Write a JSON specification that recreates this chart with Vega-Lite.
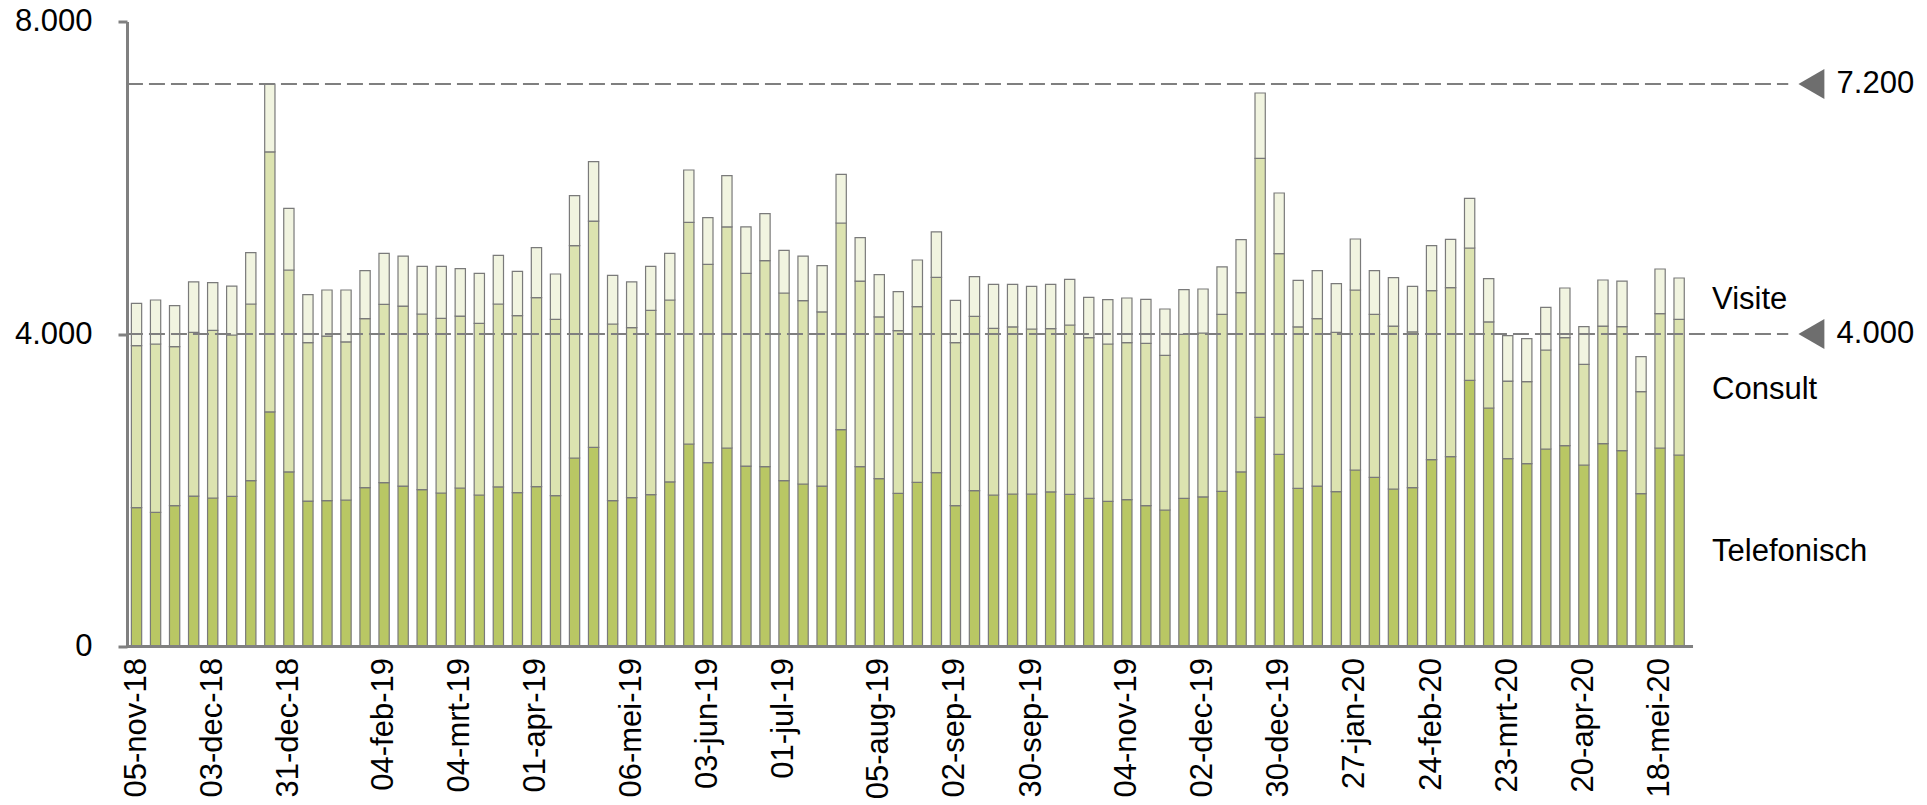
{
  "$schema": "https://vega.github.io/schema/vega-lite/v6.json",
  "width": 1714,
  "height": 625,
  "autosize": "none",
  "padding": {"left": 127, "top": 21.5, "right": 86, "bottom": 158.5},
  "background": "white",
  "config": {
    "view": {"stroke": null},
    "font": "Liberation Sans",
    "locale": {"number": {"decimal": ",", "thousands": ".", "grouping": [3], "currency": ["€", ""]}}
  },
  "datasets": {
    "weeks": [
      {"week": "05-nov-18", "Telefonisch": 1777, "Consult": 2073, "Visite": 543},
      {"week": "12-nov-18", "Telefonisch": 1717, "Consult": 2155, "Visite": 563},
      {"week": "19-nov-18", "Telefonisch": 1803, "Consult": 2035, "Visite": 525},
      {"week": "26-nov-18", "Telefonisch": 1926, "Consult": 2095, "Visite": 645},
      {"week": "03-dec-18", "Telefonisch": 1901, "Consult": 2146, "Visite": 610},
      {"week": "10-dec-18", "Telefonisch": 1922, "Consult": 2065, "Visite": 627},
      {"week": "17-dec-18", "Telefonisch": 2123, "Consult": 2261, "Visite": 657},
      {"week": "24-dec-18", "Telefonisch": 3002, "Consult": 3328, "Visite": 870},
      {"week": "31-dec-18", "Telefonisch": 2234, "Consult": 2585, "Visite": 790},
      {"week": "07-jan-19", "Telefonisch": 1862, "Consult": 2027, "Visite": 614},
      {"week": "14-jan-19", "Telefonisch": 1867, "Consult": 2107, "Visite": 589},
      {"week": "21-jan-19", "Telefonisch": 1875, "Consult": 2023, "Visite": 665},
      {"week": "28-jan-19", "Telefonisch": 2033, "Consult": 2163, "Visite": 615},
      {"week": "04-feb-19", "Telefonisch": 2097, "Consult": 2283, "Visite": 653},
      {"week": "11-feb-19", "Telefonisch": 2054, "Consult": 2304, "Visite": 640},
      {"week": "18-feb-19", "Telefonisch": 2007, "Consult": 2249, "Visite": 610},
      {"week": "25-feb-19", "Telefonisch": 1965, "Consult": 2236, "Visite": 665},
      {"week": "04-mrt-19", "Telefonisch": 2029, "Consult": 2201, "Visite": 606},
      {"week": "11-mrt-19", "Telefonisch": 1939, "Consult": 2198, "Visite": 640},
      {"week": "18-mrt-19", "Telefonisch": 2042, "Consult": 2342, "Visite": 623},
      {"week": "25-mrt-19", "Telefonisch": 1969, "Consult": 2266, "Visite": 567},
      {"week": "01-apr-19", "Telefonisch": 2046, "Consult": 2419, "Visite": 640},
      {"week": "08-apr-19", "Telefonisch": 1931, "Consult": 2257, "Visite": 580},
      {"week": "15-apr-19", "Telefonisch": 2413, "Consult": 2718, "Visite": 640},
      {"week": "22-apr-19", "Telefonisch": 2549, "Consult": 2897, "Visite": 760},
      {"week": "29-apr-19", "Telefonisch": 1867, "Consult": 2261, "Visite": 623},
      {"week": "06-mei-19", "Telefonisch": 1905, "Consult": 2176, "Visite": 585},
      {"week": "13-mei-19", "Telefonisch": 1943, "Consult": 2360, "Visite": 563},
      {"week": "20-mei-19", "Telefonisch": 2106, "Consult": 2329, "Visite": 598},
      {"week": "27-mei-19", "Telefonisch": 2592, "Consult": 2837, "Visite": 670},
      {"week": "03-jun-19", "Telefonisch": 2353, "Consult": 2539, "Visite": 597},
      {"week": "10-jun-19", "Telefonisch": 2541, "Consult": 2829, "Visite": 657},
      {"week": "17-jun-19", "Telefonisch": 2310, "Consult": 2467, "Visite": 593},
      {"week": "24-jun-19", "Telefonisch": 2302, "Consult": 2637, "Visite": 601},
      {"week": "01-jul-19", "Telefonisch": 2123, "Consult": 2402, "Visite": 546},
      {"week": "08-jul-19", "Telefonisch": 2080, "Consult": 2347, "Visite": 571},
      {"week": "15-jul-19", "Telefonisch": 2054, "Consult": 2228, "Visite": 593},
      {"week": "22-jul-19", "Telefonisch": 2775, "Consult": 2646, "Visite": 623},
      {"week": "29-jul-19", "Telefonisch": 2302, "Consult": 2376, "Visite": 555},
      {"week": "05-aug-19", "Telefonisch": 2148, "Consult": 2070, "Visite": 542},
      {"week": "12-aug-19", "Telefonisch": 1961, "Consult": 2082, "Visite": 499},
      {"week": "19-aug-19", "Telefonisch": 2101, "Consult": 2249, "Visite": 597},
      {"week": "26-aug-19", "Telefonisch": 2225, "Consult": 2500, "Visite": 581},
      {"week": "02-sep-19", "Telefonisch": 1803, "Consult": 2086, "Visite": 542},
      {"week": "09-sep-19", "Telefonisch": 1995, "Consult": 2231, "Visite": 508},
      {"week": "16-sep-19", "Telefonisch": 1939, "Consult": 2134, "Visite": 563},
      {"week": "23-sep-19", "Telefonisch": 1952, "Consult": 2138, "Visite": 546},
      {"week": "30-sep-19", "Telefonisch": 1952, "Consult": 2112, "Visite": 546},
      {"week": "07-okt-19", "Telefonisch": 1978, "Consult": 2090, "Visite": 568},
      {"week": "14-okt-19", "Telefonisch": 1948, "Consult": 2167, "Visite": 585},
      {"week": "21-okt-19", "Telefonisch": 1897, "Consult": 2056, "Visite": 516},
      {"week": "28-okt-19", "Telefonisch": 1858, "Consult": 2014, "Visite": 567},
      {"week": "04-nov-19", "Telefonisch": 1879, "Consult": 2010, "Visite": 572},
      {"week": "11-nov-19", "Telefonisch": 1803, "Consult": 2078, "Visite": 563},
      {"week": "18-nov-19", "Telefonisch": 1747, "Consult": 1980, "Visite": 593},
      {"week": "25-nov-19", "Telefonisch": 1897, "Consult": 2099, "Visite": 571},
      {"week": "02-dec-19", "Telefonisch": 1914, "Consult": 2099, "Visite": 563},
      {"week": "09-dec-19", "Telefonisch": 1986, "Consult": 2266, "Visite": 606},
      {"week": "16-dec-19", "Telefonisch": 2234, "Consult": 2295, "Visite": 678},
      {"week": "23-dec-19", "Telefonisch": 2934, "Consult": 3315, "Visite": 836},
      {"week": "30-dec-19", "Telefonisch": 2460, "Consult": 2568, "Visite": 777},
      {"week": "06-jan-20", "Telefonisch": 2025, "Consult": 2065, "Visite": 597},
      {"week": "13-jan-20", "Telefonisch": 2054, "Consult": 2142, "Visite": 615},
      {"week": "20-jan-20", "Telefonisch": 1982, "Consult": 2039, "Visite": 623},
      {"week": "27-jan-20", "Telefonisch": 2259, "Consult": 2304, "Visite": 653},
      {"week": "03-feb-20", "Telefonisch": 2166, "Consult": 2086, "Visite": 559},
      {"week": "10-feb-20", "Telefonisch": 2016, "Consult": 2086, "Visite": 619},
      {"week": "17-feb-20", "Telefonisch": 2033, "Consult": 1993, "Visite": 584},
      {"week": "24-feb-20", "Telefonisch": 2391, "Consult": 2164, "Visite": 576},
      {"week": "02-mrt-20", "Telefonisch": 2430, "Consult": 2163, "Visite": 619},
      {"week": "09-mrt-20", "Telefonisch": 3407, "Consult": 1694, "Visite": 636},
      {"week": "16-mrt-20", "Telefonisch": 3053, "Consult": 1101, "Visite": 554},
      {"week": "23-mrt-20", "Telefonisch": 2404, "Consult": 994, "Visite": 581},
      {"week": "30-mrt-20", "Telefonisch": 2340, "Consult": 1050, "Visite": 550},
      {"week": "06-apr-20", "Telefonisch": 2528, "Consult": 1267, "Visite": 546},
      {"week": "13-apr-20", "Telefonisch": 2571, "Consult": 1382, "Visite": 636},
      {"week": "20-apr-20", "Telefonisch": 2323, "Consult": 1289, "Visite": 482},
      {"week": "27-apr-20", "Telefonisch": 2596, "Consult": 1506, "Visite": 589},
      {"week": "04-mei-20", "Telefonisch": 2507, "Consult": 1587, "Visite": 584},
      {"week": "11-mei-20", "Telefonisch": 1956, "Consult": 1306, "Visite": 448},
      {"week": "18-mei-20", "Telefonisch": 2541, "Consult": 1719, "Visite": 572},
      {"week": "25-mei-20", "Telefonisch": 2451, "Consult": 1737, "Visite": 529}
    ],
    "levels": [
      {"level": 7200},
      {"level": 4000}
    ],
    "series": [
      {"type": "Visite", "pos": 4435},
      {"type": "Consult", "pos": 3287},
      {"type": "Telefonisch", "pos": 1210}
    ]
  },
  "layer": [
    {
      "data": {"name": "weeks"},
      "transform": [
        {"fold": ["Telefonisch", "Consult", "Visite"], "as": ["type", "n"]},
        {"calculate": "indexof(['Telefonisch','Consult','Visite'], datum.type)", "as": "rank"}
      ],
      "mark": {"type": "bar", "stroke": "#7a7a7a", "strokeWidth": 1.2},
      "encoding": {
        "x": {
          "field": "week", "type": "ordinal", "sort": null,
          "scale": {
            "domain": ["05-nov-18","12-nov-18","19-nov-18","26-nov-18","03-dec-18","10-dec-18","17-dec-18","24-dec-18","31-dec-18","07-jan-19","14-jan-19","21-jan-19","28-jan-19","04-feb-19","11-feb-19","18-feb-19","25-feb-19","04-mrt-19","11-mrt-19","18-mrt-19","25-mrt-19","01-apr-19","08-apr-19","15-apr-19","22-apr-19","29-apr-19","06-mei-19","13-mei-19","20-mei-19","27-mei-19","03-jun-19","10-jun-19","17-jun-19","24-jun-19","01-jul-19","08-jul-19","15-jul-19","22-jul-19","29-jul-19","05-aug-19","12-aug-19","19-aug-19","26-aug-19","02-sep-19","09-sep-19","16-sep-19","23-sep-19","30-sep-19","07-okt-19","14-okt-19","21-okt-19","28-okt-19","04-nov-19","11-nov-19","18-nov-19","25-nov-19","02-dec-19","09-dec-19","16-dec-19","23-dec-19","30-dec-19","06-jan-20","13-jan-20","20-jan-20","27-jan-20","03-feb-20","10-feb-20","17-feb-20","24-feb-20","02-mrt-20","09-mrt-20","16-mrt-20","23-mrt-20","30-mrt-20","06-apr-20","13-apr-20","20-apr-20","27-apr-20","04-mei-20","11-mei-20","18-mei-20","25-mei-20","e1","e2","e3","e4","e5","e6","e7","e8"],
            "paddingInner": 0.46, "paddingOuter": 0.23
          },
          "axis": {
            "values": ["05-nov-18","03-dec-18","31-dec-18","04-feb-19","04-mrt-19","01-apr-19","06-mei-19","03-jun-19","01-jul-19","05-aug-19","02-sep-19","30-sep-19","04-nov-19","02-dec-19","30-dec-19","27-jan-20","24-feb-20","23-mrt-20","20-apr-20","18-mei-20"],
            "title": null, "labelAngle": -90, "labelFontSize": 31, "labelPadding": 11,
            "ticks": false, "domain": false, "labelColor": "#000000", "labelFont": "Liberation Sans"
          }
        },
        "y": {
          "field": "n", "type": "quantitative", "stack": "zero",
          "scale": {"domain": [0, 8000], "nice": false},
          "axis": {
            "values": [0, 4000, 8000], "format": ",d", "title": null, "grid": false,
            "labelFontSize": 31, "labelPadding": 26, "labelColor": "#000000", "labelFont": "Liberation Sans",
            "tickSize": 9, "tickWidth": 3, "tickColor": "#808080",
            "domainColor": "#808080", "domainWidth": 3
          }
        },
        "color": {
          "field": "type", "type": "nominal",
          "scale": {"domain": ["Telefonisch", "Consult", "Visite"], "range": ["#b9c764", "#dce3b0", "#f1f4e0"]},
          "legend": null
        },
        "order": {"field": "rank", "type": "quantitative"}
      }
    },
    {
      "data": {"values": [{"base": 0}]},
      "mark": {"type": "rule", "stroke": "#808080", "strokeWidth": 3},
      "encoding": {
        "y": {"field": "base", "type": "quantitative"},
        "x": {"datum": "05-nov-18", "type": "ordinal", "bandPosition": -0.43},
        "x2": {"datum": "e1", "bandPosition": 0}
      }
    },
    {
      "data": {"name": "levels"},
      "mark": {"type": "rule", "stroke": "#7f7f7f", "strokeWidth": 2, "strokeDash": [16, 6]},
      "encoding": {
        "y": {"field": "level", "type": "quantitative"},
        "x": {"datum": "05-nov-18", "type": "ordinal", "bandPosition": -0.43},
        "x2": {"datum": "e6", "bandPosition": 0}
      }
    },
    {
      "data": {"name": "levels"},
      "mark": {"type": "point", "shape": "triangle-left", "filled": true, "size": 900, "color": "#6e6e6e", "opacity": 1},
      "encoding": {
        "y": {"field": "level", "type": "quantitative"},
        "x": {"datum": "e7", "type": "ordinal", "bandPosition": 0.4}
      }
    },
    {
      "data": {"name": "levels"},
      "mark": {"type": "text", "align": "left", "baseline": "middle", "fontSize": 31, "font": "Liberation Sans", "color": "#000000"},
      "encoding": {
        "y": {"field": "level", "type": "quantitative"},
        "x": {"datum": "e8", "type": "ordinal", "bandPosition": 1},
        "text": {"field": "level", "type": "quantitative", "format": ","}
      }
    },
    {
      "data": {"name": "series"},
      "mark": {"type": "text", "align": "left", "baseline": "middle", "fontSize": 31, "font": "Liberation Sans", "color": "#000000"},
      "encoding": {
        "y": {"field": "pos", "type": "quantitative"},
        "x": {"datum": "e2", "type": "ordinal", "bandPosition": 0},
        "text": {"field": "type", "type": "nominal"}
      }
    }
  ]
}
